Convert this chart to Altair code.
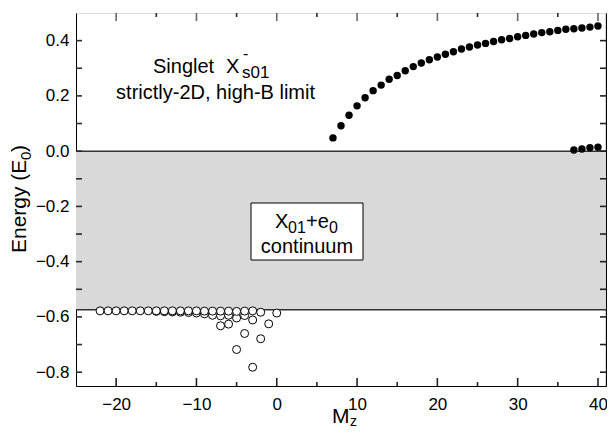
import altair as alt
import pandas as pd

# ---------------- data ----------------
M_upper = list(range(7, 41))
E_upper = [0.048, 0.092, 0.130, 0.164, 0.193, 0.219, 0.239, 0.260, 0.274, 0.291,
           0.306, 0.319, 0.331, 0.341, 0.351, 0.360, 0.370, 0.377, 0.384, 0.390,
           0.397, 0.403, 0.408, 0.414, 0.419, 0.424, 0.429, 0.432, 0.437, 0.441,
           0.443, 0.446, 0.449, 0.453]
M_lower = [37, 38, 39, 40]
E_lower = [0.004, 0.008, 0.012, 0.014]

M_row1 = list(range(-22, -1))
E_row1 = [-0.578] * 13 + [-0.579, -0.579, -0.579, -0.579, -0.580, -0.579, -0.578, -0.583]
M_row2 = list(range(-15, -2))
E_row2 = [-0.580, -0.581, -0.582, -0.583, -0.584, -0.586, -0.589, -0.594,
          -0.596, -0.594, -0.604, -0.595, -0.611]
M_deep = [-7, -6, -5, -4, -3, -2, -1, 0]
E_deep = [-0.632, -0.626, -0.718, -0.660, -0.782, -0.679, -0.625, -0.586]

band_top = [0.0]
band_bottom = [-0.574]
x_major = [-20, -10, 0, 10, 20, 30, 40]
x_minor = [-15, -5, 5, 15, 25, 35]
y_major = [-0.8, -0.6, -0.4, -0.2, 0.0, 0.2, 0.4]
y_all = [-0.8, -0.7, -0.6, -0.5, -0.4, -0.3, -0.2, -0.1, 0.0, 0.1, 0.2, 0.3, 0.4]

# ---------------- layout ----------------
W, H = 530, 373
X0, X1 = -25, 41
Y0, Y1 = -0.85, 0.5
FONT = "Liberation Sans"
xs = alt.Scale(domain=[X0, X1], nice=False, zero=False)
ys = alt.Scale(domain=[Y0, Y1], nice=False, zero=False)
px_x = (X1 - X0) / W
px_y = (Y1 - Y0) / H


def df(m, e):
    return pd.DataFrame({"M": m, "E": e})


band = alt.Chart(pd.DataFrame({"top": band_top, "bottom": band_bottom})).mark_rect(
    color="#d9d9d9").encode(
    x=alt.value(0), x2=alt.value(W),
    y=alt.Y("top:Q", scale=ys, axis=alt.Axis(
        orient="left", values=y_major, format=".1f", labelFontSize=17, labelFont=FONT,
        labelColor="black", ticks=False, tickSize=0, domain=True, domainColor="black",
        labelPadding=7, title=None, grid=False)),
    y2="bottom:Q")

rules = alt.Chart(pd.DataFrame({"E": band_top + band_bottom})).mark_rule(
    color="#333333", strokeWidth=1.5).encode(
    x=alt.value(0), x2=alt.value(W),
    y=alt.Y("E:Q", scale=ys, axis=None))

TW = 1.6


def xticks(values, a, b, color):
    return alt.Chart(pd.DataFrame({"tv": values, "a": [a] * len(values),
                                   "b": [b] * len(values)})).mark_rule(color=color, strokeWidth=TW).encode(
        x=alt.X("tv:Q", scale=xs, axis=None),
        y=alt.Y("a:Q", scale=ys, axis=None),
        y2="b:Q")


def yticks(values, a, b, color):
    return alt.Chart(pd.DataFrame({"tv": values, "a": [a] * len(values),
                                   "b": [b] * len(values)})).mark_rule(color=color, strokeWidth=TW).encode(
        y=alt.Y("tv:Q", scale=ys, axis=None),
        x=alt.X("a:Q", scale=xs, axis=None),
        x2="b:Q")


top_tick = alt.Chart(pd.DataFrame({"tv": x_major})).mark_tick(
    color="#262626", thickness=TW, size=8, orient="vertical").encode(
    x=alt.X("tv:Q", scale=xs, axis=None), y=alt.value(4))

top_rule = alt.Chart(pd.DataFrame({"tv": x_minor})).mark_rule(color="#2a2a2a", strokeWidth=TW).encode(
    x=alt.X("tv:Q", scale=xs, axis=None), y=alt.value(0), y2=alt.value(4))

tick_layers = [
    yticks(y_all, X1, X1 - 6 * px_x, "#202020"),
    xticks(x_major, Y0, Y0 + 8 * px_y, "#222222"),
    xticks(x_minor, Y0, Y0 + 4 * px_y, "#242424"),
    top_tick,
    top_rule,
    yticks(y_all, X0, X0 + 6 * px_x, "#2c2c2c"),
]

filled_style = dict(size=55, color="black", opacity=1)
filled_up = alt.Chart(df(M_upper, E_upper)).mark_circle(**filled_style).encode(
    x=alt.X("M:Q", scale=xs, axis=alt.Axis(
        orient="bottom", values=x_major, labelFontSize=17, labelFont=FONT, labelColor="black",
        ticks=False, tickSize=0, domain=True, domainColor="black", labelPadding=10,
        title=None, grid=False)),
    y=alt.Y("E:Q", scale=ys, axis=alt.Axis(
        orient="right", labels=False, ticks=False, tickSize=0, domain=True,
        domainColor="black", domainWidth=1.3, title=None, grid=False)))

filled_low = alt.Chart(df(M_lower, E_lower)).mark_circle(**filled_style).encode(
    x=alt.X("M:Q", scale=xs, axis=None), y=alt.Y("E:Q", scale=ys, axis=None))

open_style = dict(shape="circle", size=64, fill="white", stroke="black",
                  strokeWidth=1, fillOpacity=1, strokeOpacity=1)


def open_pts(m, e):
    return alt.Chart(df(m, e)).mark_point(**open_style).encode(
        x=alt.X("M:Q", scale=xs, axis=None), y=alt.Y("E:Q", scale=ys, axis=None))


one = alt.Data(values=[{"k": 1}])


def txt(s, x, y, size=20, align="left", angle=0, baseline="alphabetic"):
    kw = dict(text=s, font=FONT, fontSize=size, align=align, baseline=baseline, color="black")
    if angle:
        kw["angle"] = angle
    return alt.Chart(one).mark_text(**kw).encode(x=alt.value(x), y=alt.value(y))


box = alt.Chart(one).mark_rect(fill="white", stroke="black", strokeWidth=1).encode(
    x=alt.value(175), x2=alt.value(287), y=alt.value(190), y2=alt.value(247))

texts = [
    txt("Singlet", 77, 60),
    txt("X", 150, 60),
    txt("-", 167, 46, size=16),
    txt("s01", 166, 65, size=17),
    txt("strictly-2D, high-B limit", 239, 86, align="right"),
    box,
    txt("X", 199, 215),
    txt("01", 212, 220, size=16),
    txt("+e", 230, 215),
    txt("0", 253, 220, size=16),
    txt("continuum", 231, 240, align="center"),
    txt("Energy (E", -50, 240, size=21, angle=270),
    txt("0", -45, 147, size=15, angle=270),
    txt(")", -50, 139, size=21, angle=270),
    txt("M", 256, 410, size=21),
    txt("z", 274, 413, size=14),
]

chart = alt.layer(
    band, rules,
    open_pts(M_row2, E_row2), open_pts(M_row1, E_row1), open_pts(M_deep, E_deep),
    filled_up, filled_low, *texts, *tick_layers
).resolve_scale(x="independent", y="independent").resolve_axis(
    x="independent", y="independent").properties(
    width=W, height=H,
    autosize=alt.AutoSizeParams(type="none"),
    padding={"left": 68, "top": 5, "right": 1, "bottom": 46},
).configure_view(stroke=None).configure(background="white")

chart.save("out.html", embed_options={"renderer": "svg", "actions": False})
